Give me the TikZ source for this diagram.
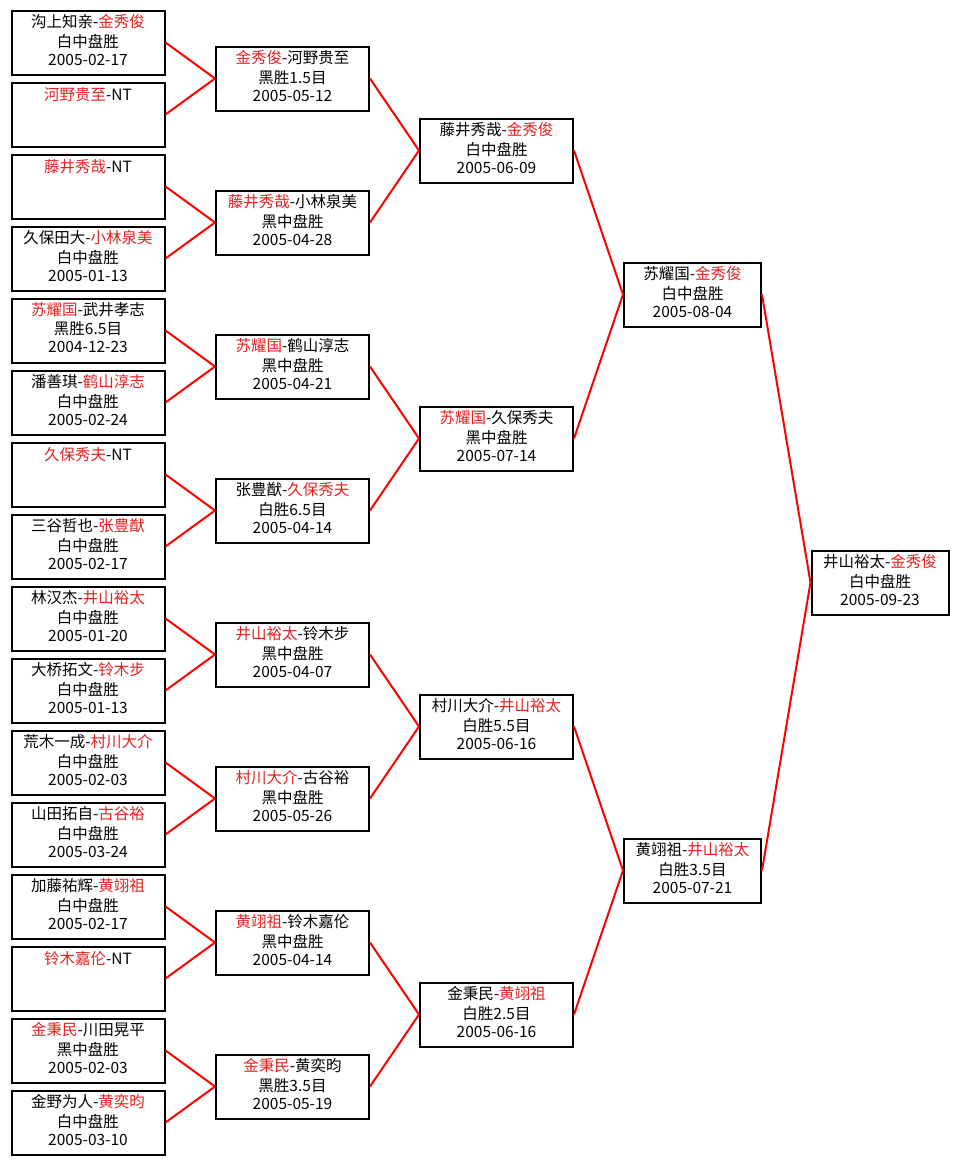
\documentclass[tikz,border=0pt]{standalone}
\usepackage{fontspec}
\setmainfont{Noto Sans CJK SC}
\usepackage{tikz}
\definecolor{winred}{RGB}{228,32,32}
\newcommand{\wn}[1]{\textcolor{winred}{#1}}
\newcommand{\gm}[3]{#1\strut\\#2\strut\\#3\strut}

\begin{document}
\begin{tikzpicture}[x=1pt,y=-1pt]
			\tikzset{every node/.style={font=\fontsize{15.5}{18}\selectfont}}
			\tikzset{game/.style={draw,line width=2pt,align=center,inner sep=0pt,minimum height=64pt,minimum width=153pt}}
			\tikzset{narrowgame/.style={game,minimum width=137pt}}
			\tikzset{link/.style={red,line width=2pt}}
			\useasboundingbox (0,0) rectangle (960,1165);
			% round 1
			\node[game] (a1) at (88,42.5) {\gm{沟上知亲-\wn{金秀俊}}{白中盘胜}{2005-02-17}};
			\node[game] (a2) at (88,114.5) {\gm{\wn{河野贵至}-NT}{}{}};
			\node[game] (a3) at (88,186.5) {\gm{\wn{藤井秀哉}-NT}{}{}};
			\node[game] (a4) at (88,258.5) {\gm{久保田大-\wn{小林泉美}}{白中盘胜}{2005-01-13}};
			\node[game] (a5) at (88,330.5) {\gm{\wn{苏耀国}-武井孝志}{黑胜6.5目}{2004-12-23}};
			\node[game] (a6) at (88,402.5) {\gm{潘善琪-\wn{鹤山淳志}}{白中盘胜}{2005-02-24}};
			\node[game] (a7) at (88,474.5) {\gm{\wn{久保秀夫}-NT}{}{}};
			\node[game] (a8) at (88,546.5) {\gm{三谷哲也-\wn{张豊猷}}{白中盘胜}{2005-02-17}};
			\node[game] (a9) at (88,618.5) {\gm{林汉杰-\wn{井山裕太}}{白中盘胜}{2005-01-20}};
			\node[game] (a10) at (88,690.5) {\gm{大桥拓文-\wn{铃木步}}{白中盘胜}{2005-01-13}};
			\node[game] (a11) at (88,762.5) {\gm{荒木一成-\wn{村川大介}}{白中盘胜}{2005-02-03}};
			\node[game] (a12) at (88,834.5) {\gm{山田拓自-\wn{古谷裕}}{白中盘胜}{2005-03-24}};
			\node[game] (a13) at (88,906.5) {\gm{加藤祐辉-\wn{黄翊祖}}{白中盘胜}{2005-02-17}};
			\node[game] (a14) at (88,978.5) {\gm{\wn{铃木嘉伦}-NT}{}{}};
			\node[game] (a15) at (88,1050.5) {\gm{\wn{金秉民}-川田晃平}{黑中盘胜}{2005-02-03}};
			\node[game] (a16) at (88,1122.5) {\gm{金野为人-\wn{黄奕昀}}{白中盘胜}{2005-03-10}};
			% round 2
			\node[game] (b1) at (292.5,78.5) {\gm{\wn{金秀俊}-河野贵至}{黑胜1.5目}{2005-05-12}};
			\node[game] (b2) at (292.5,222.5) {\gm{\wn{藤井秀哉}-小林泉美}{黑中盘胜}{2005-04-28}};
			\node[game] (b3) at (292.5,366.5) {\gm{\wn{苏耀国}-鹤山淳志}{黑中盘胜}{2005-04-21}};
			\node[game] (b4) at (292.5,510.5) {\gm{张豊猷-\wn{久保秀夫}}{白胜6.5目}{2005-04-14}};
			\node[game] (b5) at (292.5,654.5) {\gm{\wn{井山裕太}-铃木步}{黑中盘胜}{2005-04-07}};
			\node[game] (b6) at (292.5,798.5) {\gm{\wn{村川大介}-古谷裕}{黑中盘胜}{2005-05-26}};
			\node[game] (b7) at (292.5,942.5) {\gm{\wn{黄翊祖}-铃木嘉伦}{黑中盘胜}{2005-04-14}};
			\node[game] (b8) at (292.5,1086.5) {\gm{\wn{金秉民}-黄奕昀}{黑胜3.5目}{2005-05-19}};
			% round 3
			\node[game] (c1) at (496.5,150.5) {\gm{藤井秀哉-\wn{金秀俊}}{白中盘胜}{2005-06-09}};
			\node[game] (c2) at (496.5,438.5) {\gm{\wn{苏耀国}-久保秀夫}{黑中盘胜}{2005-07-14}};
			\node[game] (c3) at (496.5,726.5) {\gm{村川大介-\wn{井山裕太}}{白胜5.5目}{2005-06-16}};
			\node[game] (c4) at (496.5,1014.5) {\gm{金秉民-\wn{黄翊祖}}{白胜2.5目}{2005-06-16}};
			% semifinals and final
			\node[narrowgame] (d1) at (692.5,294.5) {\gm{苏耀国-\wn{金秀俊}}{白中盘胜}{2005-08-04}};
			\node[narrowgame] (d2) at (692.5,870.5) {\gm{黄翊祖-\wn{井山裕太}}{白胜3.5目}{2005-07-21}};
			\node[narrowgame] (e) at (880,582.5) {\gm{井山裕太-\wn{金秀俊}}{白中盘胜}{2005-09-23}};
			% links
			\draw[link] (a1.east) -- (b1.west); \draw[link] (a2.east) -- (b1.west);
			\draw[link] (a3.east) -- (b2.west); \draw[link] (a4.east) -- (b2.west);
			\draw[link] (a5.east) -- (b3.west); \draw[link] (a6.east) -- (b3.west);
			\draw[link] (a7.east) -- (b4.west); \draw[link] (a8.east) -- (b4.west);
			\draw[link] (a9.east) -- (b5.west); \draw[link] (a10.east) -- (b5.west);
			\draw[link] (a11.east) -- (b6.west); \draw[link] (a12.east) -- (b6.west);
			\draw[link] (a13.east) -- (b7.west); \draw[link] (a14.east) -- (b7.west);
			\draw[link] (a15.east) -- (b8.west); \draw[link] (a16.east) -- (b8.west);
			\draw[link] (b1.east) -- (c1.west); \draw[link] (b2.east) -- (c1.west);
			\draw[link] (b3.east) -- (c2.west); \draw[link] (b4.east) -- (c2.west);
			\draw[link] (b5.east) -- (c3.west); \draw[link] (b6.east) -- (c3.west);
			\draw[link] (b7.east) -- (c4.west); \draw[link] (b8.east) -- (c4.west);
			\draw[link] (c1.east) -- (d1.west); \draw[link] (c2.east) -- (d1.west);
			\draw[link] (c3.east) -- (d2.west); \draw[link] (c4.east) -- (d2.west);
			\draw[link] (d1.east) -- (e.west); \draw[link] (d2.east) -- (e.west);
		\end{tikzpicture}
\end{document}
